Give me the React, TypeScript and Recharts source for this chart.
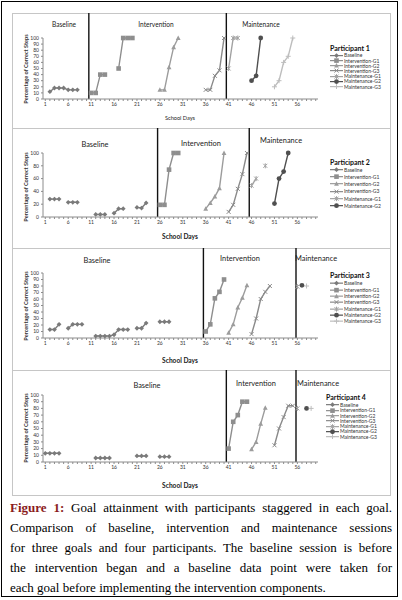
import { Legend, Line, LineChart, ReferenceLine, XAxis, YAxis } from 'recharts'

type Pt = [number, number]
type Shape = 'diamond' | 'square' | 'triangle' | 'cross' | 'star' | 'circle' | 'plus'

const FONT = 'Lato, "Open Sans", Arial, sans-serif'

const X_LABELS = [1, 6, 11, 16, 21, 26, 31, 36, 41, 46, 51, 56]
const Y_TICKS_10 = [0, 10, 20, 30, 40, 50, 60, 70, 80, 90, 100]
const Y_TICKS_20 = [0, 20, 40, 60, 80, 100]
const DAY_COUNT = 60

// Participant 1
const p1Baseline: Pt[] = [[2, 12], [3, 18], [4, 18], [5, 18], [6, 15], [7, 15], [8, 15]]
const p1IntG1: Pt[] = [[11, 10], [12, 10], [13, 40], [14, 40], [17, 50], [18, 100], [19, 100], [20, 100]]
const p1IntG2: Pt[] = [[26, 15], [27, 15], [28, 52], [29, 85], [30, 100]]
const p1IntG3: Pt[] = [[36, 15], [37, 15], [38, 38], [39, 47], [40, 100]]
const p1MaintG1: Pt[] = [[41, 50], [42, 100], [43, 100]]
const p1MaintG2: Pt[] = [[46, 30], [47, 38], [48, 100]]
const p1MaintG3: Pt[] = [[51, 20], [52, 30], [53, 60], [54, 70], [55, 100]]

// Participant 2
const p2Baseline: Pt[] = [
  [2, 28], [3, 28], [4, 28], [6, 23], [7, 23], [8, 23], [12, 4], [13, 4], [14, 4],
  [16, 6], [17, 13], [18, 13], [21, 15], [22, 14], [23, 22],
]
const p2IntG1: Pt[] = [[26, 19], [27, 19], [28, 74], [29, 100], [30, 100]]
const p2IntG2: Pt[] = [[36, 13], [37, 22], [38, 32], [39, 45], [40, 100]]
const p2IntG3: Pt[] = [[41, 8], [42, 19], [43, 44], [44, 67], [45, 100]]
const p2MaintG1: Pt[] = [[46, 49], [47, 60], [49, 80]]
const p2MaintG2: Pt[] = [[51, 21], [52, 60], [53, 71], [54, 100]]

// Participant 3
const p3Baseline: Pt[] = [
  [2, 13], [3, 13], [4, 21], [6, 15], [7, 21], [8, 21], [9, 21],
  [12, 3], [13, 3], [14, 3], [15, 3], [16, 5], [17, 13], [18, 13], [19, 13],
  [21, 15], [22, 15], [23, 23], [26, 25], [27, 25], [28, 25],
]
const p3IntG1: Pt[] = [[36, 10], [37, 21], [38, 61], [39, 71], [40, 90]]
const p3IntG2: Pt[] = [[41, 8], [42, 21], [43, 47], [44, 62], [45, 81]]
const p3IntG3: Pt[] = [[46, 6], [47, 30], [48, 60], [49, 71], [50, 80]]
const p3MaintG1: Pt[] = [[56, 79]]
const p3MaintG2: Pt[] = [[57, 81]]
const p3MaintG3: Pt[] = [[58, 80]]

// Participant 4
const p4Baseline: Pt[] = [
  [1, 13], [2, 13], [3, 13], [4, 13], [12, 6], [13, 6], [14, 6], [15, 6],
  [21, 9], [22, 9], [23, 9], [26, 8], [27, 8], [28, 8],
]
const p4IntG1: Pt[] = [[41, 20], [42, 60], [43, 70], [44, 90], [45, 90]]
const p4IntG2: Pt[] = [[46, 19], [47, 30], [48, 57], [49, 81]]
const p4IntG3: Pt[] = [[51, 25], [52, 50], [53, 67], [54, 84], [55, 84]]
const p4MaintG1: Pt[] = [[56, 80]]
const p4MaintG2: Pt[] = [[58, 80]]
const p4MaintG3: Pt[] = [[59, 80]]

const SERIES: { key: string; name: string; shape: Shape; color: string }[] = [
  { key: 'baseline', name: 'Baseline', shape: 'diamond', color: '#7a7a7a' },
  { key: 'intG1', name: 'Intervention-G1', shape: 'square', color: '#8e8e8e' },
  { key: 'intG2', name: 'Intervention-G2', shape: 'triangle', color: '#9c9c9c' },
  { key: 'intG3', name: 'Intervention-G3', shape: 'cross', color: '#8a8a8a' },
  { key: 'mG1', name: 'Maintenance-G1', shape: 'star', color: '#a2a2a2' },
  { key: 'mG2', name: 'Maintenance-G2', shape: 'circle', color: '#4f4f4f' },
  { key: 'mG3', name: 'Maintenance-G3', shape: 'plus', color: '#bdbdbd' },
]
const SERIES_BY_KEY = Object.fromEntries(SERIES.map((s) => [s.key, s]))

type PanelDef = {
  title: string
  top: number
  bottom: number
  plotTop: number
  plotBottom: number
  yTicks: number[]
  phases: number[]
  series: Record<string, Pt[]>
  phaseLabels: { text: string; x: number; y: number }[]
  labelSize: number
  daysY: number
  daysBold: boolean
  yLabelY: number
  legend: { x: number; titleY: number; itemY: number; step: number }
}

const PANELS: PanelDef[] = [
  {
    title: 'Participant 1',
    top: 13, bottom: 128, plotTop: 38, plotBottom: 99,
    yTicks: Y_TICKS_10,
    phases: [10.5, 40.5],
    series: { baseline: p1Baseline, intG1: p1IntG1, intG2: p1IntG2, intG3: p1IntG3, mG1: p1MaintG1, mG2: p1MaintG2, mG3: p1MaintG3 },
    phaseLabels: [
      { text: 'Baseline', x: 64, y: 24 },
      { text: 'Intervention', x: 156, y: 24 },
      { text: 'Maintenance', x: 261, y: 24 },
    ],
    labelSize: 6.6,
    daysY: 117,
    daysBold: false,
    yLabelY: 69,
    legend: { x: 330, titleY: 48, itemY: 55.5, step: 5.2 },
  },
  {
    title: 'Participant 2',
    top: 128, bottom: 248, plotTop: 153, plotBottom: 217,
    yTicks: Y_TICKS_20,
    phases: [25.5, 45.5],
    series: { baseline: p2Baseline, intG1: p2IntG1, intG2: p2IntG2, intG3: p2IntG3, mG1: p2MaintG1, mG2: p2MaintG2 },
    phaseLabels: [
      { text: 'Baseline', x: 95, y: 144 },
      { text: 'Intervention', x: 201, y: 143 },
      { text: 'Maintenance', x: 281, y: 140 },
    ],
    labelSize: 7.4,
    daysY: 236,
    daysBold: true,
    yLabelY: 187,
    legend: { x: 330, titleY: 162, itemY: 169.5, step: 7.3 },
  },
  {
    title: 'Participant 3',
    top: 248, bottom: 370, plotTop: 273, plotBottom: 338,
    yTicks: Y_TICKS_10,
    phases: [35.5, 55.7],
    series: { baseline: p3Baseline, intG1: p3IntG1, intG2: p3IntG2, intG3: p3IntG3, mG1: p3MaintG1, mG2: p3MaintG2, mG3: p3MaintG3 },
    phaseLabels: [
      { text: 'Baseline', x: 97, y: 260 },
      { text: 'Intervention', x: 240, y: 258 },
      { text: 'Maintenance', x: 316, y: 258 },
    ],
    labelSize: 7.4,
    daysY: 360,
    daysBold: true,
    yLabelY: 306,
    legend: { x: 330, titleY: 275, itemY: 283.5, step: 6.3 },
  },
  {
    title: 'Participant 4',
    top: 370, bottom: 495, plotTop: 395, plotBottom: 462,
    yTicks: Y_TICKS_10,
    phases: [40.5, 55.7],
    series: { baseline: p4Baseline, intG1: p4IntG1, intG2: p4IntG2, intG3: p4IntG3, mG1: p4MaintG1, mG2: p4MaintG2, mG3: p4MaintG3 },
    phaseLabels: [
      { text: 'Baseline', x: 147, y: 385 },
      { text: 'Intervention', x: 256, y: 383 },
      { text: 'Maintenance', x: 318, y: 383 },
    ],
    labelSize: 7.4,
    daysY: 485,
    daysBold: true,
    yLabelY: 428,
    legend: { x: 326, titleY: 397, itemY: 405, step: 5.3 },
  },
]

const DAY_TICKS = Array.from({ length: DAY_COUNT }, (_, i) => i + 1)

function buildRows(series: Record<string, Pt[]>) {
  const rows: Record<string, number>[] = DAY_TICKS.map((day) => ({ day }))
  for (const [key, pts] of Object.entries(series)) {
    for (const [day, v] of pts) rows[day - 1][key] = v
  }
  return rows
}

function Marker({ cx, cy, shape, color }: { cx: number; cy: number; shape: Shape; color: string }) {
  const s = 2
  switch (shape) {
    case 'diamond':
      return <path d={`M${cx},${cy - 2.4}L${cx + 2.4},${cy}L${cx},${cy + 2.4}L${cx - 2.4},${cy}Z`} fill={color} />
    case 'square':
      return <rect x={cx - 2.3} y={cy - 2.3} width={4.6} height={4.6} fill={color} />
    case 'triangle':
      return <path d={`M${cx},${cy - 2.5}L${cx + 2.4},${cy + 2}L${cx - 2.4},${cy + 2}Z`} fill={color} />
    case 'cross':
      return <path d={`M${cx - s},${cy - s}L${cx + s},${cy + s}M${cx - s},${cy + s}L${cx + s},${cy - s}`} stroke={color} strokeWidth={1} />
    case 'star':
      return (
        <path
          d={`M${cx - s},${cy - s}L${cx + s},${cy + s}M${cx - s},${cy + s}L${cx + s},${cy - s}M${cx},${cy - 2.5}L${cx},${cy + 2.5}`}
          stroke={color}
          strokeWidth={1}
        />
      )
    case 'circle':
      return <circle cx={cx} cy={cy} r={2.4} fill={color} />
    default:
      return <path d={`M${cx - 2.5},${cy}L${cx + 2.5},${cy}M${cx},${cy - 2.5}L${cx},${cy + 2.5}`} stroke={color} strokeWidth={1} />
  }
}

function LegendBox({ payload, panel }: { payload?: any[]; panel: PanelDef }) {
  const { titleY, itemY, step } = panel.legend
  return (
    <div style={{ fontFamily: FONT, color: '#333', textAlign: 'left' }}>
      <div style={{ fontSize: 7, fontWeight: 700, lineHeight: '8px', height: 8, color: '#111', whiteSpace: 'nowrap' }}>
        {panel.title}
      </div>
      <div style={{ marginTop: itemY - step / 2 - (titleY + 4) }}>
        {(payload || []).map((p) => {
          const s = SERIES_BY_KEY[p.dataKey]
          return (
            <div key={p.dataKey} style={{ display: 'flex', alignItems: 'center', height: step, fontSize: 5, whiteSpace: 'nowrap' }}>
              <svg width={13} height={step} style={{ display: 'block', marginRight: 1 }}>
                <line x1={0} x2={13} y1={step / 2} y2={step / 2} stroke={s.color} strokeWidth={1.2} />
                <Marker cx={6.5} cy={step / 2} shape={s.shape} color={s.color} />
              </svg>
              <span>{p.value}</span>
            </div>
          )
        })}
      </div>
    </div>
  )
}

const tickStyle = { fontSize: 5, fill: '#333', fontFamily: FONT }

function Panel({ panel }: { panel: PanelDef }) {
  const rows = buildRows(panel.series)
  const shown = SERIES.filter((s) => panel.series[s.key])
  const height = panel.plotBottom - panel.top + 20
  const yTop = 100 + ((panel.plotTop - panel.top) / (panel.plotBottom - panel.plotTop)) * 100
  return (
    <>
      <div
        style={{
          position: 'absolute',
          left: 12,
          top: panel.top,
          width: 377,
          height: panel.bottom - panel.top - 1,
          border: '1px solid #c6c6c6',
        }}
      />
      <div style={{ position: 'absolute', left: 0, top: panel.top }}>
        <LineChart
          width={402}
          height={height}
          data={rows}
          margin={{ top: panel.plotTop - panel.top, right: 84, bottom: 0, left: 23 }}
        >
          <XAxis
            type="number"
            dataKey="day"
            domain={[0.5, DAY_COUNT + 0.5]}
            ticks={DAY_TICKS}
            interval={0}
            allowDataOverflow
            tickFormatter={(d: number) => (X_LABELS.includes(d) ? String(d) : '')}
            tickSize={2}
            tickMargin={1}
            stroke="#8c8c8c"
            tick={tickStyle}
            height={20}
          />
          <YAxis
            type="number"
            domain={[0, 100]}
            ticks={panel.yTicks}
            interval={0}
            width={20}
            tickSize={2}
            tickMargin={2}
            stroke="#8c8c8c"
            tick={tickStyle}
          />
          {panel.phases.map((x) => (
            <ReferenceLine
              key={x}
              segment={[{ x, y: 0 }, { x, y: yTop }]}
              stroke="#111"
              strokeWidth={1.4}
              ifOverflow="visible"
            />
          ))}
          {shown.map((s) => (
            <Line
              key={s.key}
              dataKey={s.key}
              name={s.name}
              type="linear"
              stroke={s.color}
              strokeWidth={1.4}
              isAnimationActive={false}
              activeDot={false}
              dot={(props: any) =>
                props.cy == null || props.cx == null ? (
                  <g key={`${s.key}-${props.index}`} />
                ) : (
                  <g key={`${s.key}-${props.index}`}>
                    <Marker cx={props.cx} cy={props.cy} shape={s.shape} color={s.color} />
                  </g>
                )
              }
            />
          ))}
          <Legend
            layout="vertical"
            align="center"
            verticalAlign="middle"
            content={(props: any) => <LegendBox payload={props.payload} panel={panel} />}
            wrapperStyle={{ left: panel.legend.x, top: panel.legend.titleY - 4 - panel.top, width: 66 }}
          />
        </LineChart>
      </div>
      {panel.phaseLabels.map((l) => (
        <div
          key={l.text}
          style={{
            position: 'absolute',
            left: l.x,
            top: l.y,
            transform: 'translate(-50%, -50%)',
            fontFamily: FONT,
            fontSize: panel.labelSize,
            color: '#222',
            whiteSpace: 'nowrap',
          }}
        >
          {l.text}
        </div>
      ))}
      <div
        style={{
          position: 'absolute',
          left: 180,
          top: panel.daysY,
          transform: 'translate(-50%, -50%)',
          fontFamily: FONT,
          fontSize: panel.daysBold ? 6.6 : 5.6,
          fontWeight: panel.daysBold ? 700 : 400,
          color: '#222',
          whiteSpace: 'nowrap',
        }}
      >
        School Days
      </div>
      <div
        style={{
          position: 'absolute',
          left: 25,
          top: panel.yLabelY,
          transform: 'translate(-50%, -50%) rotate(-90deg)',
          fontFamily: FONT,
          fontSize: 5.6,
          fontWeight: 700,
          color: '#333',
          whiteSpace: 'nowrap',
        }}
      >
        Percentage of Correct Steps
      </div>
    </>
  )
}

const CAPTION_LINES = [
  'Goal attainment with participants staggered in each goal.',
  'Comparison of baseline, intervention and maintenance sessions',
  'for three goals and four participants. The baseline session is before',
  'the intervention began and a baseline data point were taken for',
  'each goal before implementing the intervention components.',
]

function Caption() {
  return (
    <div
      style={{
        position: 'absolute',
        left: 10,
        top: 498,
        width: 382,
        fontFamily: '"Liberation Serif", "DejaVu Serif", serif',
        fontSize: 13,
        lineHeight: '20px',
        color: '#000',
      }}
    >
      {CAPTION_LINES.map((line, i) => (
        <div
          key={i}
          style={{
            textAlign: i === CAPTION_LINES.length - 1 ? 'left' : 'justify',
            textAlignLast: i === CAPTION_LINES.length - 1 ? 'left' : 'justify',
          }}
        >
          {i === 0 && <b style={{ color: '#8a1c1c' }}>Figure 1: </b>}
          {line}
        </div>
      ))}
    </div>
  )
}

export default function App() {
  return (
    <div style={{ position: 'absolute', left: 0, top: 0, width: 402, height: 600, background: '#fff', overflow: 'hidden' }}>
      <div style={{ position: 'absolute', left: 1, top: 1, width: 395, height: 594, border: '1.5px solid #000' }} />
      {PANELS.map((p) => (
        <Panel key={p.title} panel={p} />
      ))}
      <Caption />
    </div>
  )
}
